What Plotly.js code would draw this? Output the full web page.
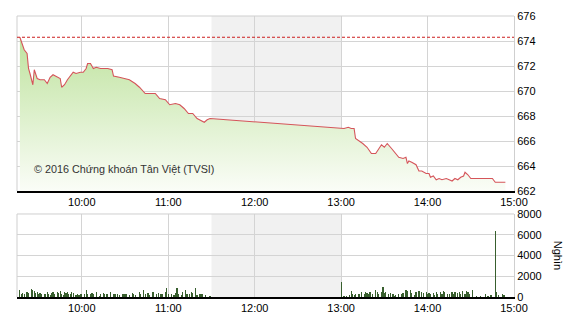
<!DOCTYPE html>
<html><head><meta charset="utf-8">
<script src="https://cdn.plot.ly/plotly-3.0.1.min.js"></script>
<style>html,body{margin:0;padding:0;background:#fff}#c{width:570px;height:320px}</style>
</head><body><div id="c"></div>
<script>
const day = '2016-01-01 ';
const priceTimes = ['09:17','09:20','09:22','09:23','09:24','09:26','09:27','09:29','09:31','09:34','09:36','09:38','09:40','09:43','09:45','09:46','09:48','09:50','09:52','09:54','09:56','09:59','10:01','10:03','10:04','10:06','10:08','10:10','10:13','10:15','10:18','10:21','10:22','10:26','10:30','10:33','10:37','10:40','10:44','10:47','10:51','10:54','10:58','11:01','11:05','11:08','11:11','11:14','11:17','11:20','11:22','11:25','11:27','11:29','13:02','13:05','13:07','13:09','13:10','13:13','13:15','13:18','13:21','13:24','13:26','13:28','13:30','13:32','13:35','13:38','13:40','13:43','13:45','13:46','13:47','13:49','13:52','13:54','13:56','13:59','14:01','14:02','14:04','14:06','14:08','14:10','14:13','14:15','14:17','14:19','14:21','14:23','14:25','14:26','14:28','14:30','14:33','14:38','14:45','14:47','14:52','14:54'];
const priceValues = [674.3,673.3,673.0,671.8,671.4,670.5,671.7,671.0,670.9,670.9,670.6,671.1,671.3,671.1,671.0,670.3,670.5,670.9,671.2,671.5,671.4,671.5,671.5,671.8,672.2,672.2,671.8,671.9,671.8,671.8,671.8,671.7,671.2,671.1,671.0,670.9,670.6,670.3,669.8,669.8,669.8,669.4,669.3,668.9,669.0,668.9,668.6,668.2,668.2,667.8,667.7,667.5,667.7,667.8,667.0,667.1,667.0,667.0,666.2,666.0,665.8,665.5,665.0,665.0,665.4,665.7,665.5,665.8,665.4,665.0,664.7,664.6,664.7,664.2,664.4,664.3,664.1,663.6,663.6,663.4,663.4,663.1,663.2,662.9,663.0,662.9,663.0,662.9,662.8,663.0,662.9,663.1,663.2,663.5,663.3,663.0,663.0,663.0,663.0,662.7,662.7,662.7];
const refPrice = 674.3;
const volTimes = ['09:17','09:18','09:19','09:20','09:22','09:23','09:25','09:26','09:27','09:28','09:29','09:30','09:31','09:32','09:34','09:35','09:36','09:37','09:38','09:39','09:40','09:41','09:43','09:44','09:45','09:46','09:47','09:48','09:49','09:50','09:51','09:52','09:53','09:54','09:56','09:57','09:58','09:59','10:00','10:02','10:03','10:04','10:06','10:07','10:08','10:10','10:12','10:13','10:15','10:16','10:17','10:18','10:20','10:22','10:23','10:25','10:26','10:28','10:29','10:30','10:31','10:33','10:35','10:36','10:37','10:40','10:41','10:43','10:44','10:46','10:47','10:49','10:50','10:52','10:53','10:55','10:56','10:58','10:59','11:00','11:02','11:04','11:05','11:06','11:07','11:09','11:10','11:12','11:13','11:15','11:16','11:17','11:19','11:20','11:22','11:23','11:24','11:26','11:29',
'13:00','13:02','13:04','13:06','13:07','13:08','13:09','13:10','13:12','13:13','13:14','13:16','13:17','13:18','13:19','13:20','13:22','13:24','13:25','13:26','13:28','13:29','13:30','13:31','13:33','13:34','13:36','13:37','13:38','13:40','13:42','13:43','13:45','13:46','13:48','13:49','13:51','13:52','13:54','13:56','13:57','13:59','14:00','14:01','14:02','14:04','14:05','14:06','14:07','14:09','14:10','14:11','14:12','14:14','14:15','14:17','14:18','14:19','14:21','14:22','14:23','14:24','14:26','14:27','14:28','14:29','14:31','14:34','14:37','14:40','14:42','14:44','14:47','14:48','14:49','14:52','14:53'];
const volValues = [640,260,380,260,450,380,770,640,580,380,510,320,380,260,320,260,450,320,190,380,450,320,510,380,580,320,190,450,380,510,320,260,450,380,190,260,190,260,260,320,700,320,260,380,320,450,130,260,380,320,260,320,450,260,320,260,190,260,320,260,320,190,380,320,190,450,260,640,260,380,190,450,510,320,380,260,320,450,900,320,260,190,380,830,320,190,450,640,320,260,450,380,900,190,260,320,260,190,130,
1400,130,130,190,580,320,190,320,260,320,450,260,510,380,320,450,260,640,450,260,510,960,380,450,260,380,320,130,190,320,260,380,700,580,640,380,190,450,580,510,380,450,260,380,260,380,190,450,320,510,320,580,450,260,320,510,320,450,380,510,320,580,260,580,450,320,700,130,130,320,130,190,6340,450,190,260,190];
const breakStart = '11:30', breakEnd = '13:00';
const tickTimes = ['10:00','11:00','12:00','13:00','14:00','15:00'];
const axisStart = '09:15', axisEnd = '15:00';
const volTitle = 'Nghìn';
const watermark = '© 2016 Chứng khoán Tân Việt (TVSI)';

const d = t => day + t;
const font = {family:'Liberation Sans, Arial, sans-serif', size:11, color:'#000'};
const grid = '#d4d4d4';

const traces = [
  {x: priceTimes.map(d), y: priceValues, type:'scatter', mode:'lines',
   line:{color:'#d5545a', width:1.1}, fill:'tozeroy',
   fillgradient:{type:'vertical', start:662, stop:674.3,
     colorscale:[[0,'#fbfdf8'],[1,'#bfe39f']]},
   xaxis:'x', yaxis:'y', hoverinfo:'skip'},
  {x: volTimes.map(d), y: volValues, type:'bar', width:50000,
   marker:{color:'#385f2e', line:{width:0}}, xaxis:'x2', yaxis:'y2', hoverinfo:'skip'}
];

const xcommon = {type:'date', range:[d(axisStart), d(axisEnd)], tickvals: tickTimes.map(d), ticktext: tickTimes,
  showgrid:true, gridcolor:grid, gridwidth:1, showline:true, linecolor:'#000', linewidth:1.5,
  ticks:'', tickfont:font, zeroline:false, fixedrange:true};

const layout = {
  width:570, height:320, margin:{l:17, r:56, t:16, b:23},
  paper_bgcolor:'#fff', plot_bgcolor:'rgba(0,0,0,0)', showlegend:false, bargap:0,
  xaxis: Object.assign({}, xcommon, {anchor:'y'}),
  xaxis2: Object.assign({}, xcommon, {anchor:'y2'}),
  yaxis: {domain:[0.3772,1], range:[662,676], dtick:2, side:'right', showgrid:true, gridcolor:grid,
    showline:true, linecolor:'#cfcfcf', ticks:'', tickfont:font, zeroline:false, anchor:'x', ticklabelstandoff:0},
  yaxis2: {domain:[0,0.2954], range:[0,8000], dtick:2000, side:'right', showgrid:true, gridcolor:grid,
    showline:true, linecolor:'#cfcfcf', ticks:'', tickfont:font, zeroline:false, anchor:'x2', ticklabelstandoff:0},
  shapes: [
    {type:'rect', xref:'x', yref:'y domain', x0:d(breakStart), x1:d(breakEnd), y0:0, y1:1, fillcolor:'#f1f1f1', line:{width:0}, layer:'below'},
    {type:'rect', xref:'x2', yref:'y2 domain', x0:d(breakStart), x1:d(breakEnd), y0:0, y1:1, fillcolor:'#f1f1f1', line:{width:0}, layer:'below'},
    {type:'line', xref:'x domain', yref:'y domain', x0:0, x1:0, y0:0, y1:1, line:{color:'#cfcfcf', width:1}},
    {type:'line', xref:'x domain', yref:'y domain', x0:0, x1:1, y0:1, y1:1, line:{color:'#cfcfcf', width:1}},
    {type:'line', xref:'x2 domain', yref:'y2 domain', x0:0, x1:0, y0:0, y1:1, line:{color:'#cfcfcf', width:1}},
    {type:'line', xref:'x2 domain', yref:'y2 domain', x0:0, x1:1, y0:1, y1:1, line:{color:'#cfcfcf', width:1}},
    {type:'line', xref:'x domain', yref:'y', x0:0, x1:1, y0:refPrice, y1:refPrice, line:{color:'#cc1f1f', width:1, dash:'3px,2px'}}
  ],
  annotations: [
    {text: watermark, xref:'paper', yref:'paper', x:0.031, y:0.4555, xanchor:'left', yanchor:'middle', showarrow:false,
     font:{family:'Liberation Sans, Arial, sans-serif', size:10.8, color:'#333'}},
    {text: volTitle, xref:'paper', yref:'paper', x:1.0885, y:0.147, xanchor:'center', yanchor:'middle', showarrow:false, textangle:90,
     font:{family:'Liberation Sans, Arial, sans-serif', size:11, color:'#000'}}
  ]
};
Plotly.newPlot('c', traces, layout, {staticPlot:true, displayModeBar:false});
</script></body></html>
